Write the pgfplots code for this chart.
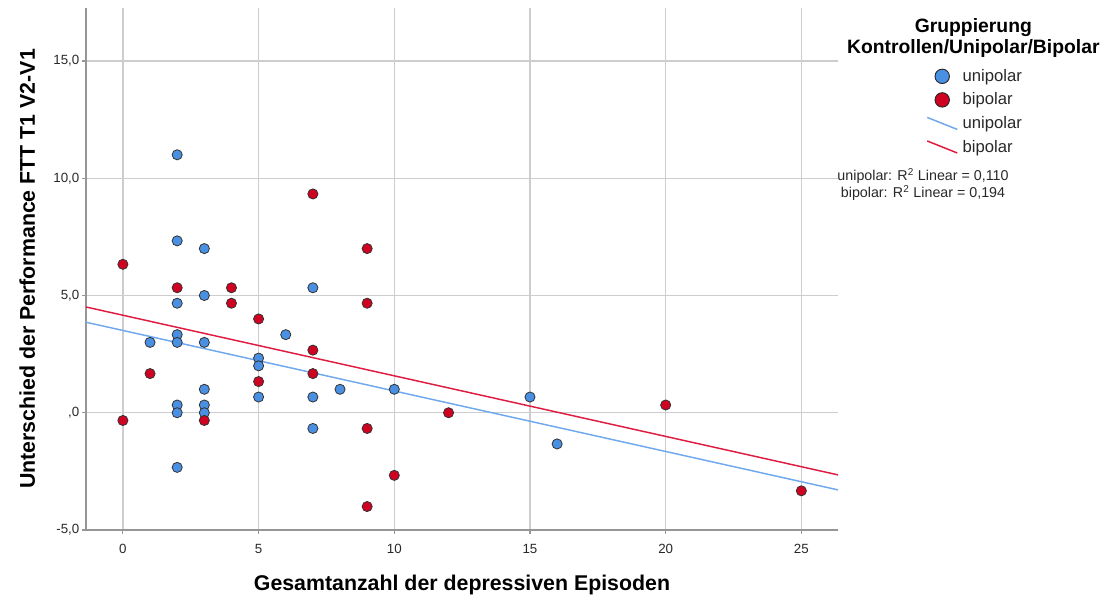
\documentclass[border=0pt]{standalone}
\usepackage{fontspec}
\setmainfont{Liberation Sans}
\usepackage{pgfplots}
\pgfplotsset{compat=1.18}

\definecolor{uni}{RGB}{74,144,226}
\definecolor{bip}{RGB}{208,2,34}
\definecolor{uniline}{RGB}{112,168,238}
\definecolor{bipline}{RGB}{222,28,64}
\definecolor{gridgray}{RGB}{205,205,205}
\definecolor{axgray}{RGB}{150,150,150}
\definecolor{txt}{RGB}{40,40,40}

% Unipolar: number of depressive episodes vs. FTT difference
\pgfplotstableread{
x y
2 11.0
2 7.33
3 7.0
3 5.0
2 4.67
7 5.33
2 3.33
6 3.33
1 3.0
2 3.0
3 3.0
5 2.33
5 2.0
3 1.0
8 1.0
10 1.0
5 0.67
7 0.67
2 0.33
3 0.33
2 0.0
3 0.0
7 -0.67
2 -2.33
15 0.67
16 -1.33
}\unipolar

% Bipolar
\pgfplotstableread{
x y
0 6.33
0 -0.33
1 1.67
2 5.33
3 -0.33
4 5.33
4 4.67
5 4.0
5 1.33
7 9.33
7 2.67
7 1.67
9 7.0
9 4.67
9 -0.67
9 -4.0
10 -2.67
12 0.0
20 0.33
25 -3.33
}\bipolar

\begin{document}
\begin{tikzpicture}
\useasboundingbox (0pt,0pt) rectangle (832.5pt,449.25pt);
\begin{axis}[
  at={(64.5pt,51.75pt)}, anchor=south west,
  scale only axis, width=564pt, height=391.5pt,
  xmin=-1.36, xmax=26.35, ymin=-5, ymax=17.26,
  axis x line*=bottom, axis y line*=left,
  axis line style={axgray, line width=1pt, -},
  xtick={0,5,10,15,20,25},
  ytick={-5,0,5,10,15},
  yticklabels={{-5,0},{,0},{5,0},{10,0},{15,0}},
  xticklabel={\pgfmathprintnumber[assume math mode=true]{\tick}},
  tick align=outside, major tick length=3pt,
  tick style={axgray, line width=0.8pt},
  grid=major, grid style={gridgray, line width=1.1pt},
  ticklabel style={font=\fontsize{10}{12}\selectfont, text=txt},
  xticklabel style={yshift=-4pt},
  yticklabel style={xshift=1.5pt},
  xlabel={Gesamtanzahl der depressiven Episoden},
  ylabel={Unterschied der Performance FTT T1 V2-V1},
  label style={font=\bfseries\fontsize{16}{18}\selectfont, text=black},
  xlabel style={at={(axis description cs:0.5,0)}, anchor=center, yshift=-41.5pt},
  ylabel style={at={(axis description cs:0,0.5)}, anchor=center, xshift=0pt, yshift=44pt},
  clip=false,
  legend style={at={(1.112,0.892)}, anchor=north west, draw=none, fill=none,
    font=\fontsize{12.5}{14}\selectfont, row sep=4.1pt, column sep=2pt,
    nodes={inner sep=1.5pt, text=txt}},
  legend cell align=left,
]
\addplot[only marks, mark=*, mark size=3.8pt,
  mark options={fill=uni, draw=black!80, line width=0.6pt},
  legend image code/.code={\draw[mark size=5.4pt, mark options={fill=uni, draw=black!85, line width=0.7pt}] plot[mark=*] coordinates {(11.25pt,0pt)};}]
  table[x=x, y=y] {\unipolar};
\addlegendentry{unipolar}
\addplot[only marks, mark=*, mark size=3.8pt,
  mark options={fill=bip, draw=black!80, line width=0.6pt},
  legend image code/.code={\draw[mark size=5.4pt, mark options={fill=bip, draw=black!85, line width=0.7pt}] plot[mark=*] coordinates {(11.25pt,0pt)};}]
  table[x=x, y=y] {\bipolar};
\addlegendentry{bipolar}
% fitted linear trends
\addplot[uniline, line width=1.1pt,
  legend image code/.code={\draw[uniline, line width=1.1pt] (0pt,4.5pt) -- (22.5pt,-4.5pt);}]
  coordinates {(-1.36,3.86) (26.35,-3.29)};
\addlegendentry{unipolar}
\addplot[bipline, line width=1.1pt,
  legend image code/.code={\draw[bipline, line width=1.1pt] (0pt,4.5pt) -- (22.5pt,-4.5pt);}]
  coordinates {(-1.36,4.51) (26.35,-2.65)};
\addlegendentry{bipolar}
\end{axis}
\node[font=\bfseries\fontsize{14.5}{16}\selectfont, align=center, text=black] at (730pt,420.5pt) {Gruppierung\\Kontrollen/Unipolar/Bipolar};
\node[font=\fontsize{10.7}{13}\selectfont, align=center, text=txt] at (692.25pt,311pt) {unipolar: R\textsuperscript{2} Linear = 0,110\\bipolar: R\textsuperscript{2} Linear = 0,194};
\end{tikzpicture}
\end{document}
